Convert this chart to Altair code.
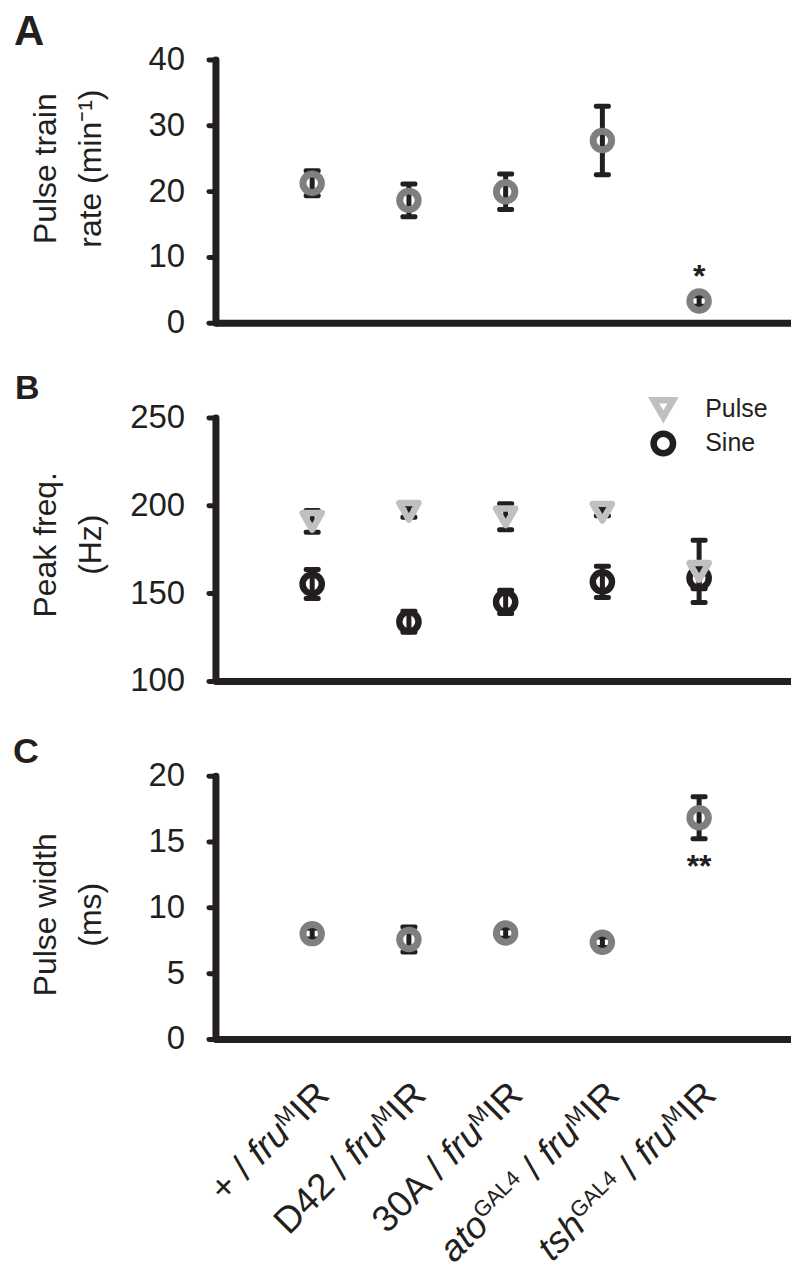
import altair as alt
import pandas as pd

# ---------------- data ----------------
cat_index = [1, 2, 3, 4, 5]

rate_mean = [21.2, 18.6, 19.9, 27.7, 3.3]
rate_err = [1.9, 2.5, 2.7, 5.2, 0.8]
rate_sig = ["", "", "", "", "*"]

pulse_freq_mean = [190.9, 196.6, 193.5, 196.1, 162.4]
pulse_freq_err = [6.2, 3.4, 7.4, 2.0, 17.7]
sine_freq_mean = [155.2, 133.7, 145.0, 156.4, 158.5]
sine_freq_err = [8.3, 6.0, 6.6, 8.9, 6.0]

width_mean = [8.0, 7.55, 8.05, 7.35, 16.8]
width_err = [0.4, 0.95, 0.4, 0.4, 1.6]
width_sig = ["", "", "", "", "**"]

label_prefix = ["+", "D42", "30A", "", ""]
label_italic_prefix = ["", "", "", "ato", "tsh"]
label_prefix_sup = ["", "", "", "GAL4", "GAL4"]
label_gene = "fru"
label_gene_sup = "M"
label_suffix = "IR"

# ---------------- style ----------------
FONT = "Liberation Sans"
BLACK = "#231f20"
GRAY = "#7f7f7f"
LIGHT = "#c0c0c0"
W, H = 577, 264

X_SCALE = alt.Scale(domain=[0, 5.95], nice=False, zero=False)
X_AXIS = alt.Axis(labels=False, ticks=False, title=None, domainCap="butt", grid=False)


def xenc():
    return alt.X("idx:Q", scale=X_SCALE, axis=X_AXIS)


def ymaker(domain, values, title, ty):
    scale = alt.Scale(domain=domain, nice=False, zero=False)
    axis = alt.Axis(values=values, title=title, titleX=-160, titleY=ty,
                    titleAngle=270, titleAlign="center", titleBaseline="alphabetic",
                    titleLineHeight=45, grid=False)

    def y(field):
        return alt.Y(field, scale=scale, axis=axis)
    return y


def err_layers(df, y):
    base = alt.Chart(df)
    rule = base.mark_rule(color=BLACK, strokeWidth=5).encode(x=xenc(), y=y("lo:Q"), y2="hi:Q")
    lo = base.mark_tick(color=BLACK, thickness=5, size=17, orient="horizontal",
                        opacity=1, cornerRadius=2).encode(x=xenc(), y=y("lo:Q"))
    hi = base.mark_tick(color=BLACK, thickness=5, size=17, orient="horizontal",
                        opacity=1, cornerRadius=2).encode(x=xenc(), y=y("hi:Q"))
    return [rule, lo, hi]


def letter(t, size, xv, yv):
    return alt.Chart(pd.DataFrame({"t": [t]})).mark_text(
        font=FONT, fontSize=size, fontWeight="bold", color=BLACK,
        align="left", baseline="alphabetic").encode(
        x=alt.value(xv), y=alt.value(yv), text="t:N")


# ---------------- panel A ----------------
dfA = pd.DataFrame({"idx": cat_index, "mean": rate_mean, "err": rate_err, "sig": rate_sig})
dfA["lo"] = dfA["mean"] - dfA["err"]
dfA["hi"] = dfA["mean"] + dfA["err"]
yA = ymaker([0, 40], [0, 10, 20, 30, 40], ["Pulse train", "rate (min\u207b\u00b9)"], 109)

ptsA = alt.Chart(dfA).mark_point(shape="circle", filled=False, size=342, strokeWidth=7,
                                 color=GRAY, opacity=1).encode(x=xenc(), y=yA("mean:Q"))
sigA = alt.Chart(dfA).mark_text(font=FONT, fontSize=32, fontWeight="bold", color=BLACK,
                                baseline="alphabetic", dy=-9).encode(
    x=xenc(), y=yA("hi:Q"), text="sig:N")
panelA = alt.layer(*err_layers(dfA, yA), ptsA, sigA, letter("A", 42, -202, -14)).properties(width=W, height=H)

# ---------------- panel B ----------------
dfB = pd.DataFrame({
    "idx": cat_index * 2,
    "series": ["Sine"] * 5 + ["Pulse"] * 5,
    "mean": sine_freq_mean + pulse_freq_mean,
    "err": sine_freq_err + pulse_freq_err,
})
dfB["lo"] = dfB["mean"] - dfB["err"]
dfB["hi"] = dfB["mean"] + dfB["err"]
yB = ymaker([100, 250], [100, 150, 200, 250], ["Peak freq.", "(Hz)"], 127)

leg = alt.Legend(title=None, orient="none", legendX=436, legendY=337, symbolSize=380,
                 symbolStrokeWidth=6.5, symbolOpacity=1, labelFontSize=25, labelFont=FONT,
                 labelColor=BLACK, labelOffset=29, rowPadding=-12, padding=0)
ptsB = alt.Chart(dfB).mark_point(filled=False, size=370, strokeWidth=6.5, opacity=1,
                                 strokeJoin="round").encode(
    x=xenc(), y=yB("mean:Q"),
    color=alt.Color("series:N", scale=alt.Scale(domain=["Pulse", "Sine"], range=[LIGHT, BLACK]), legend=leg),
    shape=alt.Shape("series:N", scale=alt.Scale(domain=["Pulse", "Sine"], range=["triangle-down", "circle"]), legend=leg),
)
panelB = alt.layer(*err_layers(dfB, yB), ptsB, letter("B", 34, -201, -19)).properties(width=W, height=H)

# ---------------- panel C ----------------
dfC = pd.DataFrame({"idx": cat_index, "mean": width_mean, "err": width_err, "sig": width_sig})
dfC["lo"] = dfC["mean"] - dfC["err"]
dfC["hi"] = dfC["mean"] + dfC["err"]
yC = ymaker([0, 20], [0, 5, 10, 15, 20], ["Pulse width", "(ms)"], 139)

ptsC = alt.Chart(dfC).mark_point(shape="circle", filled=False, size=342, strokeWidth=7,
                                 color=GRAY, opacity=1).encode(x=xenc(), y=yC("mean:Q"))
sigC = alt.Chart(dfC).mark_text(font=FONT, fontSize=32, fontWeight="bold", color=BLACK,
                                baseline="alphabetic", dy=38).encode(
    x=xenc(), y=yC("lo:Q"), text="sig:N")

# rotated category labels built from styled pieces (Arial-metric widths)
ADV = {'I': 278, 'R': 722, 'M': 833, 'f': 278, 'r': 333, 'u': 556, '/': 278, ' ': 278,
       'G': 778, 'A': 667, 'L': 556, '4': 556}


def tw(s, fs):
    return sum(ADV[c] for c in s) / 1000.0 * fs


FS, SFS, RAISE = 37, 22, 12
SHIFT = 13.4   # screen shift of ~19 px to the right, expressed in the rotated frame
LAB_Y = 322
gap = tw(" ", FS)
d_ir = SHIFT
d_m = d_ir - tw(label_suffix, FS)
d_fru = d_m - tw(label_gene_sup, SFS)
d_slash = d_fru - tw(label_gene, FS) - gap
d_pre = d_slash - tw("/", FS) - gap
d_ital = d_pre - tw("GAL4", SFS)

dfL = pd.DataFrame({"idx": cat_index, "pre": label_prefix, "ipre": label_italic_prefix,
                    "psup": label_prefix_sup})
dfL["suffix"] = label_suffix
dfL["gsup"] = label_gene_sup
dfL["gene"] = label_gene
dfL["slash"] = "/"


def lab(field, dx, dy, size, style="normal"):
    return alt.Chart(dfL).mark_text(font=FONT, fontSize=size, fontStyle=style, color=BLACK,
                                    angle=315, align="right", baseline="alphabetic",
                                    dx=dx, dy=dy).encode(
        x=xenc(), y=alt.value(LAB_Y), text=f"{field}:N")


labels = [
    lab("suffix", d_ir, SHIFT, FS),
    lab("gsup", d_m, SHIFT - RAISE, SFS),
    lab("gene", d_fru, SHIFT, FS, "italic"),
    lab("slash", d_slash, SHIFT, FS),
    lab("pre", d_pre, SHIFT, FS),
    lab("psup", d_pre, SHIFT - RAISE, SFS),
    lab("ipre", d_ital, SHIFT, FS, "italic"),
]

panelC = alt.layer(*err_layers(dfC, yC), ptsC, sigC, *labels,
                   letter("C", 36, -203, -13)).properties(width=W, height=H)

chart = alt.vconcat(panelA, panelB, panelC, spacing=95, bounds="flush").properties(
    padding={"left": 13, "top": 10, "right": 0, "bottom": 0}
).configure_view(stroke=None).configure_axis(
    domainColor=BLACK, domainWidth=7, domainCap="round",
    tickColor=BLACK, tickWidth=5, tickSize=7, tickCap="round",
    labelFont=FONT, labelFontSize=33, labelColor=BLACK, labelPadding=24,
    titleFont=FONT, titleFontSize=32, titleFontWeight="normal", titleColor=BLACK,
)

chart.save("out.html", embed_options={"renderer": "svg", "actions": False})
